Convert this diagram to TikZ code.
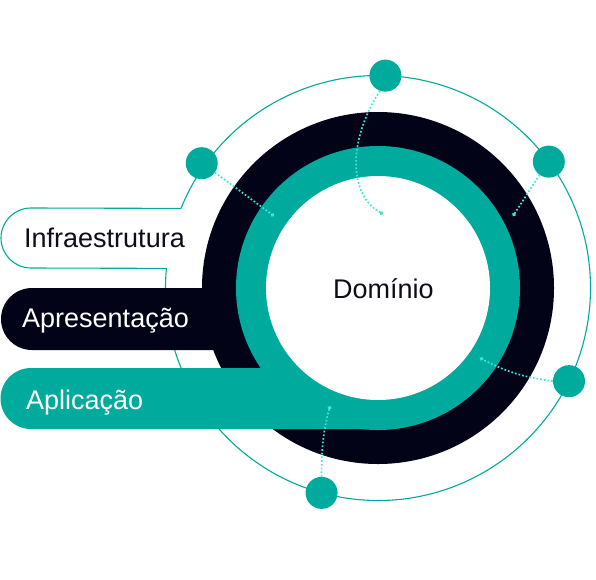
\documentclass[tikz,border=0pt]{standalone}
\usepackage{fontspec}
\setmainfont{Liberation Sans}
\usepackage{xcolor}
\usepackage{tikz}
\usetikzlibrary{arrows.meta,calc}
\definecolor{ringteal}{HTML}{00AA9C}
\definecolor{ringnavy}{HTML}{020316}
\definecolor{dotaqua}{HTML}{3DE8D2}
\definecolor{labelink}{HTML}{0D0D1A}

\begin{document}
\begin{tikzpicture}[x=1pt,y=-1pt,
  orbit/.style={draw=ringteal,line width=1.1pt},
  planet/.style={circle,fill=ringteal,inner sep=0pt,minimum size=32pt},
  probe/.style={-{Circle[length=3.5pt]},dotaqua,dotted,line width=1.7pt},
  layer/.style={font=\fontsize{27}{31}\selectfont,anchor=base west,inner sep=0pt}]
  \useasboundingbox (0,0) rectangle (596,579);
  \coordinate (c) at (378,288);
  \draw[orbit] (c) ++(174.7:212.5pt) arc[start angle=174.7,end angle=518,radius=212.5pt] -- (31,208) arc[start angle=90,end angle=270,radius=30pt] -- cycle;
  \fill[ringnavy] (c) circle[radius=176pt];
  \fill[ringnavy,rounded corners=31pt] (1,288) rectangle (378,350);
  \fill[ringteal] (c) circle[radius=142pt];
  \fill[ringteal] (378,368) -- (31,368) arc[start angle=90,end angle=270,radius=30.5pt] -- (378,429) -- cycle;
  \fill[white] (c) circle[radius=112pt];
  \node[planet] (p1) at ($(c)+(88:212.5pt)$) {};
  \node[planet] (p2) at ($(c)+(36.5:212.5pt)$) {};
  \node[planet] (p3) at ($(c)+(-26:212.5pt)$) {};
  \node[planet] (p4) at ($(c)+(254.6:212.5pt)$) {};
  \node[planet] (p5) at ($(c)+(144.7:216pt)$) {};
  \coordinate (q1) at (383,214);
  \coordinate (q2) at (513,216);
  \coordinate (q3) at (480,358);
  \coordinate (q4) at (330,406);
  \coordinate (q5) at (274,216);
  \draw[probe] (p1.250) .. controls (348,140) and (348,195) .. (q1);
  \draw[probe] (p2.235) -- (q2);
  \draw[probe] (p3.west) to[bend left=10] (q3);
  \draw[probe] (p4.north) to[out=90,in=255] (q4);
  \draw[probe] (p5.-35) -- (q5);
  \node[layer,text=labelink] (infra) at (24,247) {Infraestrutura};
  \node[layer,text=white] (apres) at (22,327) {Apresentação};
  \node[layer,text=white] (aplic) at (26,409) {Aplicação};
  \node[layer,text=labelink] (dom) at (333,298) {Domínio};
\end{tikzpicture}
\end{document}
